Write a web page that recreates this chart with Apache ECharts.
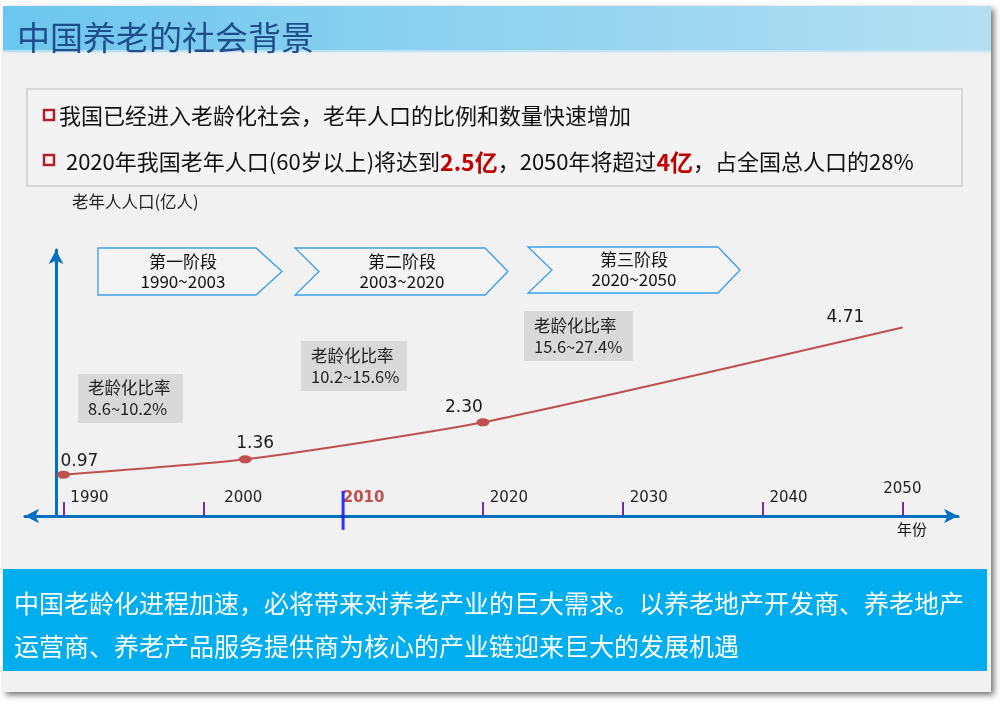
<!DOCTYPE html>
<html><head><meta charset="utf-8">
<script src="https://cdn.jsdelivr.net/npm/echarts@6/dist/echarts.min.js"></script>
<style>html,body{margin:0;padding:0;background:#fff;}#c{width:1005px;height:707px;}</style>
</head><body><div id="c"></div>
<script>
// ---- data ----
const years = [1990, 2003, 2020, 2050];
const population = [0.97, 1.36, 2.30, 4.71];
const tickYears = [1990, 2000, 2010, 2020, 2030, 2040, 2050];
const highlightYear = 2010;
const stageNames = ['第一阶段', '第二阶段', '第三阶段'];
const stageRanges = ['1990~2003', '2003~2020', '2020~2050'];
const ratioTitle = '老龄化比率';
const ratioRanges = ['8.6~10.2%', '10.2~15.6%', '15.6~27.4%'];
const title = '中国养老的社会背景';
const bullet1 = '我国已经进入老龄化社会，老年人口的比例和数量快速增加';
const bullet2Parts = [' 2020年我国老年人口(60岁以上)将达到', '2.5亿', '，2050年将超过', '4亿', '，占全国总人口的28%'];
const footerLines = ['中国老龄化进程加速，必将带来对养老产业的巨大需求。以养老地产开发商、养老地产', '运营商、养老产品服务提供商为核心的产业链迎来巨大的发展机遇'];
const yName = '老年人人口(亿人)';
const xName = '年份';

// ---- styling / layout ----
const CJK = '"Noto Sans CJK SC", "Microsoft YaHei", sans-serif';
const NUM = '"DejaVu Sans", sans-serif';
const AXIS_BLUE = '#0070C0';
const LINE_RED = '#C0504D';
const labelOffsets = [[16, 4], [10, 2], [-19, 2.5], [-57, 4]];
const symbolSizes = [[13, 8], [13, 8], [13, 8], 1];

const chart = echarts.init(document.getElementById('c'), null, {renderer: 'canvas'});

const chevrons = [
  [[98,248],[256,248],[282,271.5],[256,295],[98,295]],
  [[295,248],[485,248],[508,271.5],[485,295],[295,295],[319,271.5]],
  [[528,247],[718,247],[740,270],[718,293],[528,293],[552,270]]
];
const chevronText = [[183, 272], [402, 272], [634, 270]];
const grayBoxes = [[78,374,105,49],[301,341,106,50],[524,311,109,50]];

const graphics = [];
// panel background
graphics.push({type:'rect', z:-20, shape:{x:3,y:6,width:988,height:686},
  style:{fill:'#F1F1F1', shadowBlur:6, shadowColor:'rgba(0,0,0,0.55)', shadowOffsetX:3, shadowOffsetY:3}});
// title bar
graphics.push({type:'rect', z:-19, shape:{x:3,y:6,width:988,height:46},
  style:{fill:new echarts.graphic.LinearGradient(0,0,1,0,[{offset:0,color:'#6CC6EE'},{offset:1,color:'#B4DFF1'}])}});
graphics.push({type:'rect', z:-19, shape:{x:3,y:50,width:988,height:6},
  style:{fill:new echarts.graphic.LinearGradient(0,0,0,1,[{offset:0,color:'rgba(200,230,244,0.9)'},{offset:1,color:'rgba(241,241,241,0)'}])}});
graphics.push({type:'text', z:10, x:17, y:37, style:{text:title, font:'33px ' + CJK, fill:'#1F4E8A', verticalAlign:'middle'}});
// bullet box
graphics.push({type:'rect', z:-10, shape:{x:27,y:89,width:935,height:97}, style:{fill:'#F3F3F3', stroke:'#D6D6D6', lineWidth:2}});
graphics.push({type:'rect', z:10, shape:{x:44,y:110,width:10,height:10}, style:{fill:'none', stroke:'#B0202E', lineWidth:2.5}});
graphics.push({type:'rect', z:10, shape:{x:44,y:155,width:10,height:10}, style:{fill:'none', stroke:'#B0202E', lineWidth:2.5}});
graphics.push({type:'text', z:10, x:59, y:116, style:{text:bullet1, font:'22px ' + CJK, fill:'#111', verticalAlign:'middle'}});
graphics.push({type:'text', z:10, x:61, y:162, style:{
  text: bullet2Parts.map((p,i)=> (i===1||i===3) ? '{b|'+p+'}' : '{n|'+p+'}').join(''),
  verticalAlign:'middle',
  rich:{ n:{font:'22px ' + CJK, fill:'#111'}, b:{font:'bold 23px ' + CJK, fill:'#C00000'} }
}});
// stage chevrons
chevrons.forEach((pts, i) => {
  graphics.push({type:'polygon', z:-5, shape:{points:pts}, style:{fill:'rgba(255,255,255,0.25)', stroke:'#3A9EEA', lineWidth:1.3}});
  graphics.push({type:'text', z:10, x:chevronText[i][0], y:chevronText[i][1], style:{
    text: stageNames[i] + '\n' + stageRanges[i], font:'17px ' + CJK, fill:'#111',
    align:'center', verticalAlign:'middle', lineHeight:20}});
});
// ratio boxes
grayBoxes.forEach((b, i) => {
  graphics.push({type:'rect', z:-5, shape:{x:b[0],y:b[1],width:b[2],height:b[3]}, style:{fill:'#D9D9D9'}});
  graphics.push({type:'text', z:10, x:b[0]+10, y:b[1]+b[3]/2, style:{
    text: ratioTitle + '\n' + ratioRanges[i], font:'16.5px ' + CJK, fill:'#222',
    verticalAlign:'middle', lineHeight:21}});
});
// footer banner
graphics.push({type:'rect', z:-5, shape:{x:3,y:569,width:984,height:102}, style:{fill:'#00AEEF'}});
graphics.push({type:'text', z:10, x:14, y:603, style:{text:footerLines[0], font:'25px ' + CJK, fill:'#fff', verticalAlign:'middle'}});
graphics.push({type:'text', z:10, x:14, y:646, style:{text:footerLines[1], font:'25px ' + CJK, fill:'#fff', verticalAlign:'middle'}});

const labelRich = {
  n: {fontFamily: NUM, fontSize: 15, color: '#222', padding: [0,0,0,52]},
  w: {fontFamily: NUM, fontSize: 15, color: '#222', padding: [0,0,0,80]},
  r: {fontFamily: NUM, fontSize: 15, color: '#C0504D', fontWeight: 'bold', padding: [0,0,0,41]},
  e: {fontFamily: NUM, fontSize: 15, color: '#222', padding: [0,0,9,0]}
};

const option = {
  animation: false,
  backgroundColor: '#fff',
  graphic: {elements: graphics},
  grid: {left: 25, right: 47, top: 250, bottom: 191, containLabel: false},
  xAxis: {
    type: 'value', min: 1987.25, max: 2053.98,
    name: xName, nameLocation: 'end', nameGap: -61,
    nameTextStyle: {fontFamily: CJK, fontSize: 15, color: '#111', align: 'left', verticalAlign: 'top', padding: [6,0,0,0]},
    axisLine: {show: true, onZero: false, symbol: ['arrow','arrow'], symbolSize: [11, 14],
      lineStyle: {color: AXIS_BLUE, width: 3}},
    axisTick: {show: true, inside: true, length: 14, customValues: tickYears.filter(y => y !== highlightYear),
      lineStyle: {color: '#7030A0', width: 2}},
    axisLabel: {show: true, inside: true, margin: 10, customValues: tickYears, align: 'center',
      formatter: v => v === highlightYear ? '{r|' + v + '}' : v === 2000 ? '{w|' + v + '}' : v === 2050 ? '{e|' + v + '}' : '{n|' + v + '}',
      rich: labelRich},
    splitLine: {show: false}
  },
  yAxis: {
    type: 'value', min: -0.08, max: 6.68, offset: -31,
    name: yName, nameLocation: 'end', nameGap: 40,
    nameTextStyle: {fontFamily: CJK, fontSize: 16.5, color: '#222', align: 'left', padding: [0,0,0,16]},
    axisLine: {show: true, onZero: false, symbol: ['none','arrow'], symbolSize: [11, 14],
      lineStyle: {color: AXIS_BLUE, width: 3}},
    axisTick: {show: false}, axisLabel: {show: false}, splitLine: {show: false}
  },
  series: [
    {
      type: 'line', smooth: 0.2, z: 5,
      data: years.map((y, i) => ({
        value: [y, population[i]],
        symbolSize: symbolSizes[i],
        label: {show: true, position: 'top', offset: labelOffsets[i],
          formatter: population[i].toFixed(2), fontFamily: NUM, fontSize: 17, color: '#1a1a1a'}
      })),
      symbol: 'circle', showSymbol: true,
      itemStyle: {color: LINE_RED},
      lineStyle: {color: LINE_RED, width: 2}
    },
    {
      type: 'scatter', z: 6, silent: true,
      data: [[highlightYear, 0]],
      symbol: 'rect', symbolSize: [3, 39], symbolOffset: [0, -2.5],
      itemStyle: {color: '#0000FF'}
    }
  ]
};
chart.setOption(option);
</script></body></html>
